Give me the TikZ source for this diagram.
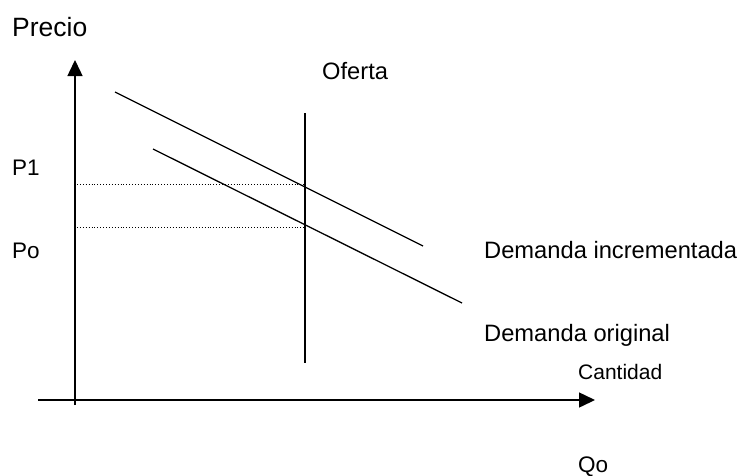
\documentclass[tikz,border=0pt]{standalone}
\usepackage{fontspec}
\setmainfont{Liberation Sans}
\usetikzlibrary{arrows.meta}
\tikzset{
  lbl/.style={anchor=base west, inner sep=0pt, font=\fontsize{23.7}{28}\selectfont},
  lblbig/.style={anchor=base west, inner sep=0pt, font=\fontsize{26.5}{30}\selectfont},
  lblmid/.style={anchor=base west, inner sep=0pt, font=\fontsize{22.5}{27}\selectfont},
  lblsmall/.style={anchor=base west, inner sep=0pt, font=\fontsize{21}{25}\selectfont},
  axis/.style={line width=1.5pt, -{Triangle[length=16pt,width=15pt]}},
  curve/.style={line width=1.3pt},
  guide/.style={line width=0.9pt, dotted}
}
\begin{document}
\begin{tikzpicture}[x=1pt,y=-1pt]
\useasboundingbox (0,0) rectangle (741,475);
% axes
\coordinate (yb) at (75,405);
\coordinate (yt) at (75,60);
\coordinate (xl) at (38,400);
\coordinate (xr) at (595,400);
\draw[axis] (yb) -- (yt);
\draw[axis] (xl) -- (xr);
% supply
\coordinate (s1) at (305,113);
\coordinate (s2) at (305,363);
\draw[curve] (s1) -- (s2);
% demand curves
\coordinate (di1) at (115,92);
\coordinate (di2) at (423,246);
\coordinate (do1) at (153,149);
\coordinate (do2) at (462,303);
\draw[curve] (di1) -- (di2);
\draw[curve] (do1) -- (do2);
% dotted guides
\coordinate (g1a) at (77,184);
\coordinate (g1b) at (305,184);
\coordinate (g2a) at (77,227);
\coordinate (g2b) at (305,227);
\draw[guide] (g1a) -- (g1b);
\draw[guide] (g2a) -- (g2b);
% labels
\node[lblbig] (precio) at (12,36) {Precio};
\node[lbl] (oferta) at (322,79) {Oferta};
\node[lblmid] (p1) at (12,175) {P1};
\node[lblmid] (po) at (12,258) {Po};
\node[lbl] (dinc) at (484,258) {Demanda incrementada};
\node[lbl] (dorig) at (484,341) {Demanda original};
\node[lblsmall] (cant) at (578,379) {Cantidad};
\node[lblmid] (qo) at (578,472) {Qo};
\end{tikzpicture}
\end{document}
